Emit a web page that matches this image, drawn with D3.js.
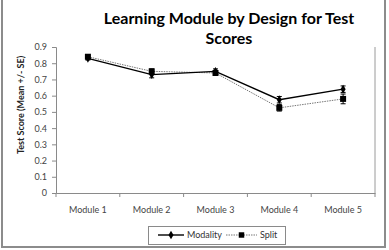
<!DOCTYPE html>
<html>
<head>
<meta charset="utf-8">
<script src="https://cdn.jsdelivr.net/npm/d3@7"></script>
<style>
  body { margin: 0; background: #fff; }
  svg { display: block; font-family: Lato, 'Open Sans', sans-serif; }
</style>
</head>
<body>
<div id="chart"></div>
<script>
// Data
const modules = ['Module 1', 'Module 2', 'Module 3', 'Module 4', 'Module 5'];
const modality = [0.83, 0.73, 0.75, 0.575, 0.64];
const modalityErr = [0.01, 0.02, 0.015, 0.02, 0.02];
const split = [0.84, 0.75, 0.74, 0.525, 0.58];
const splitErr = [0.01, 0.015, 0.015, 0.02, 0.03];
const yTicks = [0, 0.1, 0.2, 0.3, 0.4, 0.5, 0.6, 0.7, 0.8, 0.9];

const width = 389, height = 250;
const plot = { left: 56, right: 375, top: 47, bottom: 193 };

const svg = d3.select('#chart').append('svg')
  .attr('width', width)
  .attr('height', height);

// Outer frame
svg.append('rect')
  .attr('x', 2).attr('y', -2)
  .attr('width', 383).attr('height', 249)
  .attr('fill', 'none')
  .attr('stroke', '#8c8c8c')
  .attr('stroke-width', 2);

// Title
const title = svg.append('text')
  .attr('text-anchor', 'middle')
  .attr('font-weight', 'bold')
  .attr('font-size', 16)
  .attr('fill', '#000');
title.append('tspan').attr('x', 229).attr('y', 24).text('Learning Module by Design for Test');
title.append('tspan').attr('x', 229).attr('y', 44).text('Scores');

const x = d3.scaleBand()
  .domain(modules)
  .range([plot.left, plot.right]);

const y = d3.scaleLinear()
  .domain([0, 0.9])
  .range([plot.bottom, plot.top]);

// Plot area right border
svg.append('line')
  .attr('x1', plot.right).attr('x2', plot.right)
  .attr('y1', plot.top).attr('y2', plot.bottom)
  .attr('stroke', '#9a9a9a');

// Y axis
const yAxis = svg.append('g')
  .attr('transform', `translate(${plot.left},0)`)
  .call(d3.axisLeft(y).tickValues(yTicks).tickSize(4).tickPadding(5)
    .tickFormat(d => d === 0 ? '0' : d3.format('.1f')(d)));
yAxis.select('.domain').attr('stroke', '#8a8a8a');
yAxis.selectAll('.tick line').attr('stroke', '#8a8a8a');
yAxis.selectAll('text').attr('font-size', 9).attr('fill', '#444')
  .attr('font-family', 'Lato, sans-serif');

// X axis
const xAxis = svg.append('g')
  .attr('transform', `translate(0,${plot.bottom})`)
  .call(d3.axisBottom(x).tickSize(0).tickPadding(14));
xAxis.select('.domain').attr('stroke', '#8a8a8a');
xAxis.selectAll('text').attr('font-size', 9).attr('fill', '#444')
  .attr('font-family', 'Lato, sans-serif');
// tick marks between categories
svg.append('g').selectAll('line')
  .data(d3.range(modules.length + 1))
  .join('line')
  .attr('x1', i => plot.left + i * x.step())
  .attr('x2', i => plot.left + i * x.step())
  .attr('y1', plot.bottom)
  .attr('y2', plot.bottom + 4)
  .attr('stroke', '#8a8a8a');

// Y axis title
svg.append('text')
  .attr('transform', 'translate(24,105) rotate(-90)')
  .attr('text-anchor', 'middle')
  .attr('font-weight', 'bold')
  .attr('font-size', 9)
  .attr('fill', '#222')
  .text('Test Score (Mean +/- SE)');

const cx = d => x(d) + x.bandwidth() / 2;

function drawSeries(values, errs, opts) {
  const pts = modules.map((m, i) => ({ m, v: values[i], e: errs[i] }));
  const g = svg.append('g');
  g.append('path')
    .datum(pts)
    .attr('fill', 'none')
    .attr('stroke', opts.color)
    .attr('stroke-width', opts.width)
    .attr('stroke-dasharray', opts.dash)
    .attr('d', d3.line().x(d => cx(d.m)).y(d => y(d.v)));
  // error bars
  const eb = g.selectAll('.eb').data(pts).join('g');
  eb.append('line')
    .attr('x1', d => cx(d.m)).attr('x2', d => cx(d.m))
    .attr('y1', d => y(d.v - d.e)).attr('y2', d => y(d.v + d.e))
    .attr('stroke', '#000');
  eb.append('line')
    .attr('x1', d => cx(d.m) - 2.5).attr('x2', d => cx(d.m) + 2.5)
    .attr('y1', d => y(d.v - d.e)).attr('y2', d => y(d.v - d.e))
    .attr('stroke', '#000');
  eb.append('line')
    .attr('x1', d => cx(d.m) - 2.5).attr('x2', d => cx(d.m) + 2.5)
    .attr('y1', d => y(d.v + d.e)).attr('y2', d => y(d.v + d.e))
    .attr('stroke', '#000');
  g.selectAll('.mk').data(pts).join('path')
    .attr('transform', d => `translate(${cx(d.m)},${y(d.v)})`)
    .attr('d', d3.symbol().type(opts.symbol).size(opts.size))
    .attr('fill', '#000');
}

drawSeries(split, splitErr, { color: '#777', width: 1, dash: '1.5,1', symbol: d3.symbolSquare, size: 36 });
drawSeries(modality, modalityErr, { color: '#000', width: 1.4, dash: null, symbol: d3.symbolDiamond, size: 22 });

// Legend
const legend = svg.append('g');
legend.append('rect')
  .attr('x', 148.5).attr('y', 226.5)
  .attr('width', 137).attr('height', 18)
  .attr('fill', '#fff')
  .attr('stroke', '#8a8a8a');
const legendItems = [
  { name: 'Modality', x0: 158, x1: 184, tx: 187, color: '#000', dash: null, w: 1.4, symbol: d3.symbolDiamond, size: 22 },
  { name: 'Split', x0: 226, x1: 257, tx: 260, color: '#777', dash: '1.5,1', w: 1, symbol: d3.symbolSquare, size: 30 }
];
legendItems.forEach(it => {
  legend.append('line')
    .attr('x1', it.x0).attr('x2', it.x1)
    .attr('y1', 235).attr('y2', 235)
    .attr('stroke', it.color)
    .attr('stroke-width', it.w)
    .attr('stroke-dasharray', it.dash);
  legend.append('path')
    .attr('transform', `translate(${(it.x0 + it.x1) / 2},235)`)
    .attr('d', d3.symbol().type(it.symbol).size(it.size))
    .attr('fill', '#000');
  legend.append('text')
    .attr('x', it.tx).attr('y', 238)
    .attr('font-size', 9)
    .attr('fill', '#333')
    .text(it.name);
});
</script>
</body>
</html>
